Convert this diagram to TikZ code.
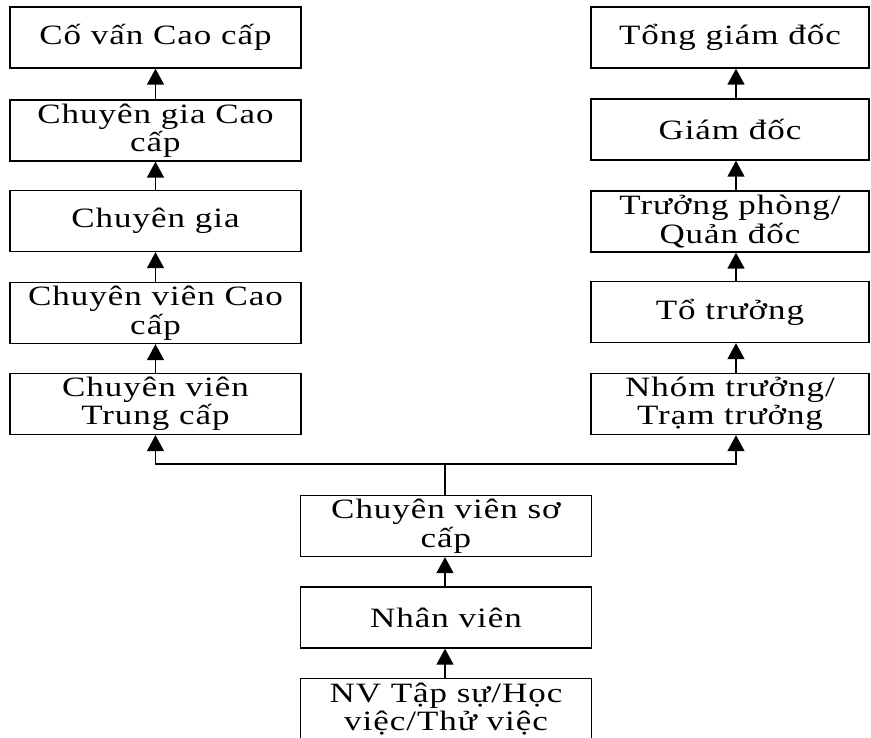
\documentclass[tikz,border=0pt]{standalone}
\usepackage{fontspec}
\setmainfont{Liberation Serif}[FakeStretch=1.25,LetterSpace=3.5]
\usetikzlibrary{arrows.meta}
\tikzset{rank/.style={draw,line width=1.3pt,minimum width=291pt,minimum height=61pt,inner sep=0pt,align=center,font=\fontsize{28}{28.5}\selectfont}}
\tikzset{up/.style={line width=1.3pt,-{Triangle[width=17pt,length=16pt]}}}

\begin{document}
\begin{tikzpicture}[x=1pt,y=-1pt]
		\useasboundingbox (0,0) rectangle (871,738);
		\clip (0,0) rectangle (871,738);
		% expert ladder
		\node[rank] (l1) at (155.5,37.5) {Cố vấn Cao cấp};
		\node[rank] (l2) at (155.5,130.5) {Chuyên gia Cao\\cấp};
		\node[rank] (l3) at (155.5,221) {Chuyên gia};
		\node[rank] (l4) at (155.5,313) {Chuyên viên Cao\\cấp};
		\node[rank] (l5) at (155.5,404) {Chuyên viên\\Trung cấp};
		% management ladder
		\node[rank,minimum width=278pt] (r1) at (730,37.5) {Tổng giám đốc};
		\node[rank,minimum width=278pt] (r2) at (730,129.5) {Giám đốc};
		\node[rank,minimum width=278pt] (r3) at (730,221.5) {Trưởng phòng/\\Quản đốc};
		\node[rank,minimum width=278pt] (r4) at (730,312) {Tổ trưởng};
		\node[rank,minimum width=278pt] (r5) at (730,404) {Nhóm trưởng/\\Trạm trưởng};
		% common start
		\node[rank] (c1) at (446,526) {Chuyên viên sơ\\cấp};
		\node[rank] (c2) at (446,617.5) {Nhân viên};
		\node[rank] (c3) at (446,709) {NV Tập sự/Học\\việc/Thử việc};
		\coordinate (split) at (445,464);
		
		\foreach \a/\b in {l5/l4,l4/l3,l3/l2,l2/l1}
		{\draw[up] (\a.north) -- (\b.south);
		}
		\foreach \a/\b in {r5/r4,r4/r3,r3/r2,r2/r1}
		{\draw[up] ([xshift=6pt]\a.north) -- ([xshift=6pt]\b.south);
		}
		\draw[up] ([xshift=-1pt]c3.north) -- ([xshift=-1pt]c2.south);
		\draw[up] ([xshift=-1pt]c2.north) -- ([xshift=-1pt]c1.south);
		\draw[line width=1.3pt] ([xshift=-1pt]c1.north) -- (split);
		\draw[up] (split) -| (l5.south);
		\draw[up] (split) -| ([xshift=6pt]r5.south);
\end{tikzpicture}
\end{document}
